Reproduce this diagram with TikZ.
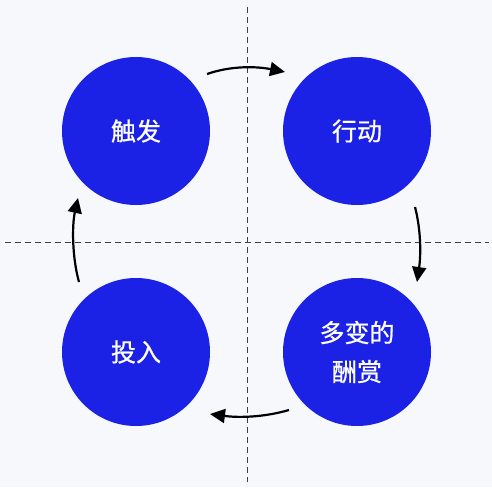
\documentclass[tikz,border=0pt]{standalone}
\usepackage{fontspec}
\newfontfamily\cjk[FakeBold=0.8]{Noto Sans CJK SC}
\usetikzlibrary{arrows.meta}
\definecolor{bg}{HTML}{F7F8FC}
\definecolor{cblue}{HTML}{1B22E6}
\begin{document}
\begin{tikzpicture}[x=1pt,y=-1pt,
  circ/.style={circle,fill=cblue,minimum size=148pt,inner sep=0pt,text=white,font=\cjk\fontsize{25}{39}\selectfont,align=center},
  guide/.style={draw=black!75,line width=1pt,dash pattern=on 6pt off 4pt},
  flow/.style={draw=black,line width=2.2pt,-{Triangle[length=15pt,width=14pt]}}]
\fill[bg] (0,0) rectangle (492,487);
\useasboundingbox (0,0) rectangle (492,487);
\coordinate (vt) at (247,7);
\coordinate (vb) at (247,482);
\coordinate (hl) at (5,242);
\coordinate (hr) at (489,242);
\draw[guide] (vt) -- (vb);
\draw[guide] (hl) -- (hr);
\node[circ] (trig) at (136,131) {触发};
\node[circ] (act) at (357,131) {行动};
\node[circ] (inv) at (136,352) {投入};
\node[circ] (rew) at (357,352) {多变的\\酬赏};
\coordinate (a1s) at (207,74);
\coordinate (a1e) at (285,72);
\coordinate (a2s) at (415,207);
\coordinate (a2e) at (417,282);
\coordinate (a3s) at (289,410);
\coordinate (a3e) at (210,414);
\coordinate (a4s) at (79,282);
\coordinate (a4e) at (78,198);
\draw[flow] (a1s) .. controls (230,66) and (255,66) .. (a1e);
\draw[flow] (a2s) .. controls (421,230) and (421,255) .. (a2e);
\draw[flow] (a3s) .. controls (265,417) and (240,418) .. (a3e);
\draw[flow] (a4s) .. controls (72,257) and (72,225) .. (a4e);
\end{tikzpicture}
\end{document}
